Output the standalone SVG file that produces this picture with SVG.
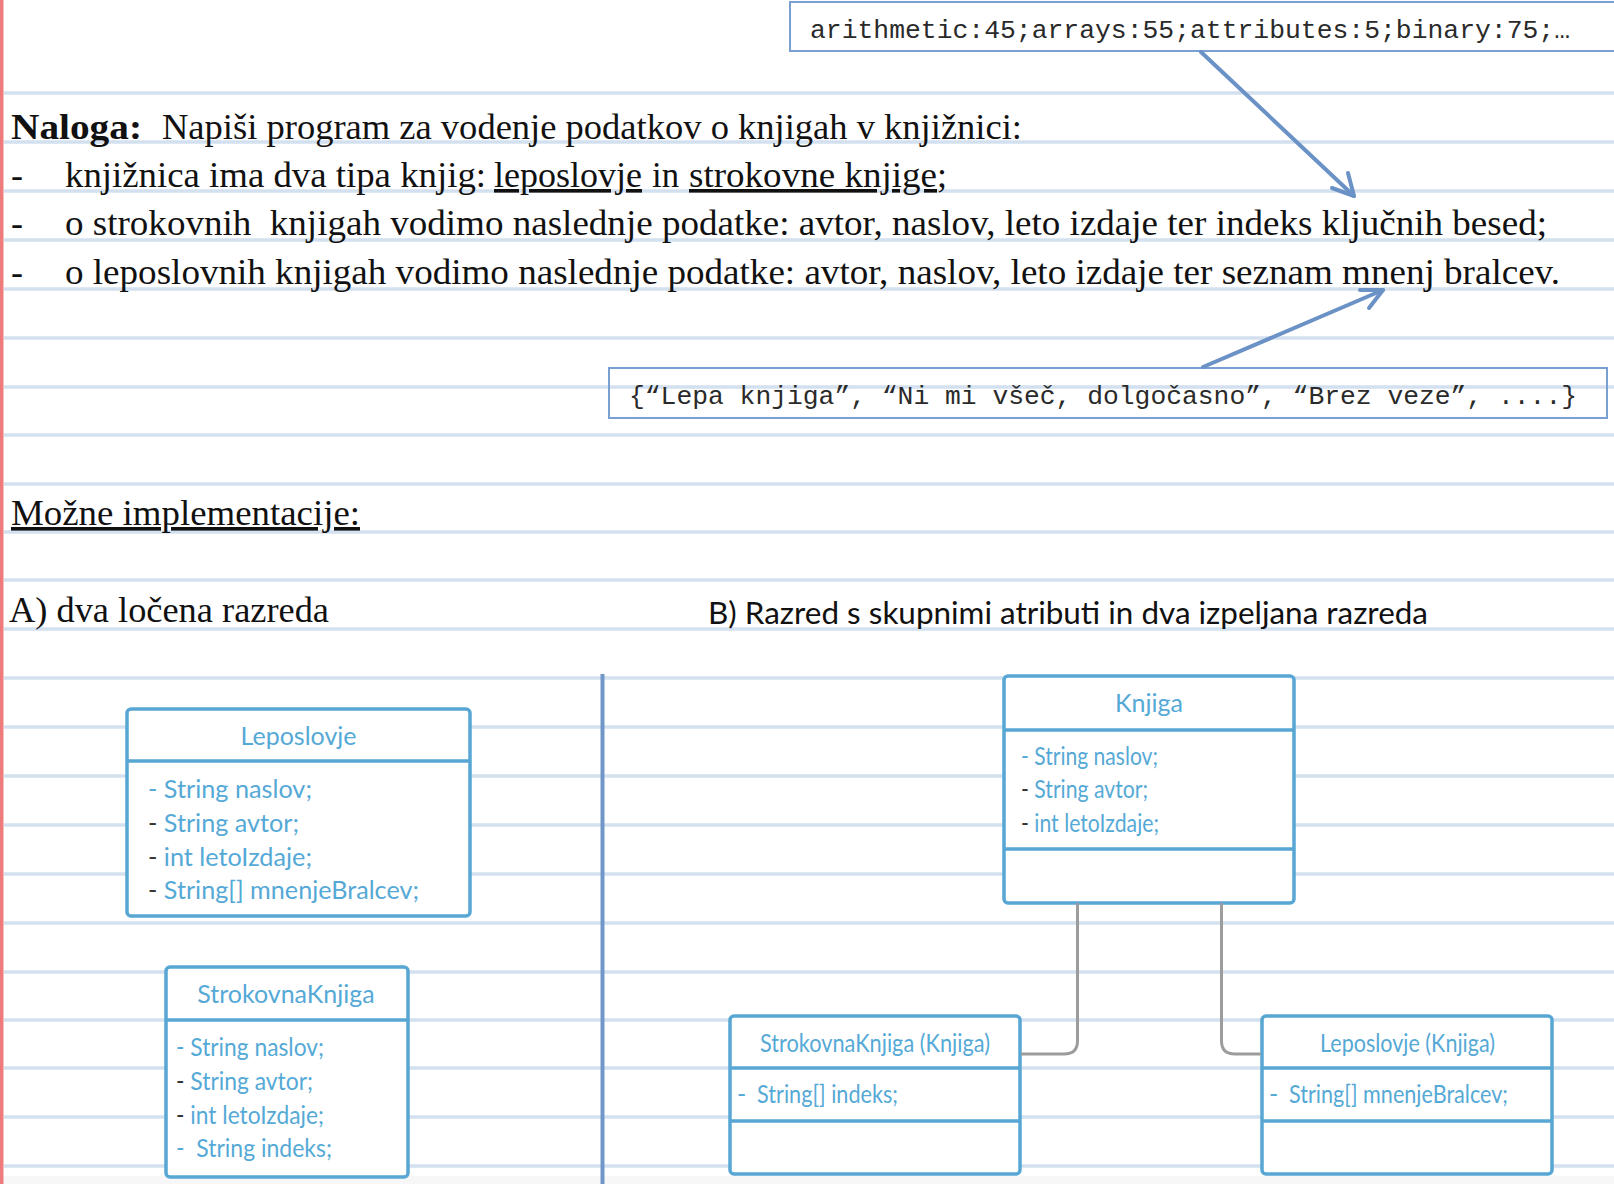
<svg xmlns="http://www.w3.org/2000/svg" width="1614" height="1184" viewBox="0 0 1614 1184">
<defs>
<style>
.rule{stroke:#d2e0ef;stroke-width:3.5}
.ser{font-family:"Liberation Serif","Times New Roman",serif;font-size:36px;fill:#111}
.mono{font-family:"Liberation Mono","Courier New",monospace;font-size:26px;fill:#2a2a2a}
.cal{font-family:Lato,"Open Sans",sans-serif;font-size:30px;fill:#111}
.box{fill:#fff;stroke:#57a6d3;stroke-width:3.5}
.sep{stroke:#57a6d3;stroke-width:3.5}
.ttl{font-family:Lato,"Open Sans",sans-serif;font-size:25px;fill:#55a9d6}
.att{font-family:Lato,"Open Sans",sans-serif;font-size:25px;fill:#55a9d6}
.dk{fill:#333}
.note{fill:none;stroke:#7a9fd2;stroke-width:2}
.arr{stroke:#6b92c6;stroke-width:4;fill:none;stroke-linecap:round;stroke-linejoin:round}
.conn{fill:none;stroke:#9c9c9c;stroke-width:3}
</style>
</defs>
<rect width="1614" height="1184" fill="#fff"/>
<rect x="0" y="1176" width="1614" height="8" fill="#f7f7f7"/>
<g id="rules">
<line class="rule" x1="4" y1="93" x2="1614" y2="93"/>
<line class="rule" x1="4" y1="142" x2="1614" y2="142"/>
<line class="rule" x1="4" y1="191" x2="1614" y2="191"/>
<line class="rule" x1="4" y1="240" x2="1614" y2="240"/>
<line class="rule" x1="4" y1="289" x2="1614" y2="289"/>
<line class="rule" x1="4" y1="338" x2="1614" y2="338"/>
<line class="rule" x1="4" y1="387" x2="1614" y2="387"/>
<line class="rule" x1="4" y1="435" x2="1614" y2="435"/>
<line class="rule" x1="4" y1="484" x2="1614" y2="484"/>
<line class="rule" x1="4" y1="532" x2="1614" y2="532"/>
<line class="rule" x1="4" y1="580" x2="1614" y2="580"/>
<line class="rule" x1="4" y1="629" x2="1614" y2="629"/>
<line class="rule" x1="4" y1="678" x2="1614" y2="678"/>
<line class="rule" x1="4" y1="727" x2="1614" y2="727"/>
<line class="rule" x1="4" y1="776" x2="1614" y2="776"/>
<line class="rule" x1="4" y1="825" x2="1614" y2="825"/>
<line class="rule" x1="4" y1="874" x2="1614" y2="874"/>
<line class="rule" x1="4" y1="923" x2="1614" y2="923"/>
<line class="rule" x1="4" y1="972" x2="1614" y2="972"/>
<line class="rule" x1="4" y1="1020" x2="1614" y2="1020"/>
<line class="rule" x1="4" y1="1068" x2="1614" y2="1068"/>
<line class="rule" x1="4" y1="1117" x2="1614" y2="1117"/>
<line class="rule" x1="4" y1="1166" x2="1614" y2="1166"/>
</g>
<rect x="0" y="0" width="3.5" height="1184" fill="#ef7c7c"/>

<g id="note-top">
<rect class="note" x="790" y="2" width="830" height="49" fill="#fff"/>
<text class="mono" x="810" y="38" textLength="760" lengthAdjust="spacingAndGlyphs">arithmetic:45;arrays:55;attributes:5;binary:75;…</text>
</g>
<g id="note-bottom">
<rect class="note" x="609" y="368" width="998" height="50"/>
<text class="mono" x="629" y="404" textLength="948" lengthAdjust="spacingAndGlyphs">{“Lepa knjiga”, “Ni mi všeč, dolgočasno”, “Brez veze”, ....}</text>
</g>

<g id="task-text">
<text class="ser" x="11" y="139"><tspan font-weight="bold" textLength="131" lengthAdjust="spacingAndGlyphs">Naloga:</tspan></text>
<text class="ser" x="162" y="139" textLength="860" lengthAdjust="spacingAndGlyphs">Napiši program za vodenje podatkov o knjigah v knjižnici:</text>
<text class="ser" x="11" y="187">-</text>
<text class="ser" x="65" y="187" textLength="421" lengthAdjust="spacingAndGlyphs">knjižnica ima dva tipa knjig:</text>
<text class="ser" x="494" y="187" textLength="148" lengthAdjust="spacingAndGlyphs" text-decoration="underline">leposlovje</text>
<text class="ser" x="652" y="187" textLength="27" lengthAdjust="spacingAndGlyphs">in</text>
<text class="ser" x="689" y="187" textLength="248" lengthAdjust="spacingAndGlyphs" text-decoration="underline">strokovne knjige</text>
<text class="ser" x="937" y="187">;</text>
<text class="ser" x="11" y="235">-</text>
<text class="ser" x="65" y="235" textLength="1482" lengthAdjust="spacingAndGlyphs" xml:space="preserve">o strokovnih  knjigah vodimo naslednje podatke: avtor, naslov, leto izdaje ter indeks ključnih besed;</text>
<text class="ser" x="11" y="284">-</text>
<text class="ser" x="65" y="284" textLength="1495" lengthAdjust="spacingAndGlyphs">o leposlovnih knjigah vodimo naslednje podatke: avtor, naslov, leto izdaje ter seznam mnenj bralcev.</text>
<text class="ser" x="11" y="525" textLength="349" lengthAdjust="spacingAndGlyphs" text-decoration="underline">Možne implementacije:</text>
<text class="ser" x="9" y="622" textLength="320" lengthAdjust="spacingAndGlyphs">A) dva ločena razreda</text>
<text class="cal" x="708" y="624" textLength="720" lengthAdjust="spacingAndGlyphs">B) Razred s skupnimi atributi in dva izpeljana razreda</text>
</g>

<g id="arrows">
<path class="arr" d="M1201 52 L1354 196"/>
<path class="arr" d="M1332 188 L1354 196 L1348 173"/>
<path class="arr" d="M1203 367 L1383 290"/>
<path class="arr" d="M1360 290 L1383 290 L1369 308"/>
</g>

<line id="divider" x1="602.5" y1="674" x2="602.5" y2="1184" stroke="#7097c8" stroke-width="4"/>

<g id="Leposlovje">
<rect class="box" x="127" y="709" width="343" height="207" rx="4"/>
<line class="sep" x1="127" y1="761" x2="470" y2="761"/>
<text class="ttl" x="298.5" y="745" text-anchor="middle">Leposlovje</text>
<text class="att" x="148" y="798" textLength="164" lengthAdjust="spacingAndGlyphs">- String naslov;</text>
<text class="att" x="148" y="832" textLength="151" lengthAdjust="spacingAndGlyphs"><tspan class="dk">-</tspan> String avtor;</text>
<text class="att" x="148" y="866" textLength="164" lengthAdjust="spacingAndGlyphs"><tspan class="dk">-</tspan> int letoIzdaje;</text>
<text class="att" x="148" y="899" textLength="271" lengthAdjust="spacingAndGlyphs"><tspan class="dk">-</tspan> String[] mnenjeBralcev;</text>
</g>

<g id="StrokovnaKnjiga">
<rect class="box" x="166" y="967" width="242" height="210" rx="4"/>
<line class="sep" x1="166" y1="1020" x2="408" y2="1020"/>
<text class="ttl" x="286" y="1003" text-anchor="middle">StrokovnaKnjiga</text>
<text class="att" x="176" y="1056" textLength="148" lengthAdjust="spacingAndGlyphs">- String naslov;</text>
<text class="att" x="176" y="1090" textLength="137" lengthAdjust="spacingAndGlyphs"><tspan class="dk">-</tspan> String avtor;</text>
<text class="att" x="176" y="1124" textLength="148" lengthAdjust="spacingAndGlyphs"><tspan class="dk">-</tspan> int letoIzdaje;</text>
<text class="att" x="176" y="1157" textLength="156" lengthAdjust="spacingAndGlyphs" xml:space="preserve">-  String indeks;</text>
</g>

<g id="Knjiga">
<rect class="box" x="1004" y="676" width="290" height="227" rx="4"/>
<line class="sep" x1="1004" y1="730" x2="1294" y2="730"/>
<line class="sep" x1="1004" y1="849" x2="1294" y2="849"/>
<text class="ttl" x="1149" y="712" text-anchor="middle">Knjiga</text>
<text class="att" x="1021" y="765" textLength="137" lengthAdjust="spacingAndGlyphs">- String naslov;</text>
<text class="att" x="1021" y="798" textLength="127" lengthAdjust="spacingAndGlyphs"><tspan class="dk">-</tspan> String avtor;</text>
<text class="att" x="1021" y="832" textLength="138" lengthAdjust="spacingAndGlyphs"><tspan class="dk">-</tspan> int letoIzdaje;</text>
</g>

<g id="StrokovnaKnjigaKnjiga">
<rect class="box" x="730" y="1016" width="290" height="158" rx="4"/>
<line class="sep" x1="730" y1="1068" x2="1020" y2="1068"/>
<line class="sep" x1="730" y1="1121" x2="1020" y2="1121"/>
<text class="ttl" x="760" y="1052" textLength="230" lengthAdjust="spacingAndGlyphs">StrokovnaKnjiga (Knjiga)</text>
<text class="att" x="737" y="1103">-</text>
<text class="att" x="757" y="1103" textLength="141" lengthAdjust="spacingAndGlyphs">String[] indeks;</text>
</g>

<g id="LeposlovjeKnjiga">
<rect class="box" x="1262" y="1016" width="290" height="158" rx="4"/>
<line class="sep" x1="1262" y1="1068" x2="1552" y2="1068"/>
<line class="sep" x1="1262" y1="1121" x2="1552" y2="1121"/>
<text class="ttl" x="1320" y="1052" textLength="175" lengthAdjust="spacingAndGlyphs">Leposlovje (Knjiga)</text>
<text class="att" x="1269" y="1103">-</text>
<text class="att" x="1289" y="1103" textLength="219" lengthAdjust="spacingAndGlyphs">String[] mnenjeBralcev;</text>
</g>

<g id="connectors">
<path class="conn" d="M1077.5 903 V1041 Q1077.5 1054 1064 1054 H1021"/>
<path class="conn" d="M1221.5 903 V1041 Q1221.5 1054 1235 1054 H1261"/>
</g>
</svg>
